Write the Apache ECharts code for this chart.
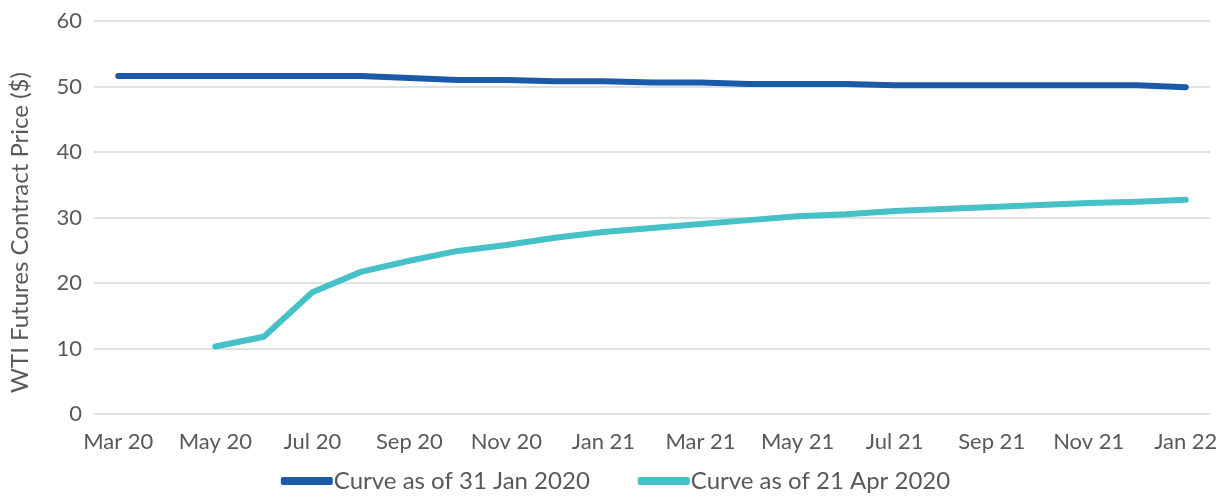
<!DOCTYPE html>
<html><head><meta charset="utf-8">
<script src="https://cdn.jsdelivr.net/npm/echarts@6/dist/echarts.min.js"></script>
<style>html,body{margin:0;padding:0;background:#fff}#c{width:1231px;height:499px}</style>
</head><body><div id="c"></div>
<script>
const categories = ['Mar 20','Apr 20','May 20','Jun 20','Jul 20','Aug 20','Sep 20','Oct 20','Nov 20','Dec 20','Jan 21','Feb 21','Mar 21','Apr 21','May 21','Jun 21','Jul 21','Aug 21','Sep 21','Oct 21','Nov 21','Dec 21','Jan 22'];
const curveJan = [51.6,51.6,51.6,51.6,51.6,51.6,51.3,51.0,51.0,50.8,50.8,50.6,50.6,50.4,50.4,50.4,50.2,50.2,50.2,50.2,50.2,50.2,49.9];
const curveApr = [null,null,10.3,11.8,18.6,21.7,23.4,24.9,25.8,26.9,27.8,28.4,29.0,29.6,30.2,30.5,31.0,31.3,31.6,31.9,32.2,32.4,32.7];
const yTicks = [0,10,20,30,40,50,60];
const seriesNames = ['Curve as of 31 Jan 2020','Curve as of 21 Apr 2020'];
const colors = ['#1a5aa8','#45c1c7'];
const font = 'Lato, "Open Sans", sans-serif';
const chart = echarts.init(document.getElementById('c'));
chart.setOption({
  animation:false,
  grid:{left:89,right:21,top:21,bottom:85,containLabel:false},
  xAxis:{type:'category',data:categories,boundaryGap:true,
    axisLine:{show:false},axisTick:{show:false},
    axisLabel:{interval:1,color:'#595959',fontSize:22,fontFamily:font,margin:17}},
  yAxis:{type:'value',min:yTicks[0],max:yTicks[yTicks.length-1],interval:10,
    name:'WTI Futures Contract Price ($)',nameLocation:'middle',nameGap:62,
    nameTextStyle:{color:'#595959',fontSize:24,fontFamily:font,padding:[0,30,0,0]},
    axisLine:{show:false},axisTick:{show:false},
    axisLabel:{color:'#595959',fontSize:22,fontFamily:font,margin:12},
    splitLine:{lineStyle:{color:'#dde2e2',width:2}}},
  legend:{bottom:1,left:'center',itemWidth:52,itemHeight:8,itemGap:48,
    textStyle:{color:'#595959',fontSize:24,fontFamily:font,padding:[0,0,0,-4]},
    data:seriesNames.map((n,i)=>({name:n,icon:'roundRect'}))},
  series:seriesNames.map((n,i)=>({name:n,type:'line',data:i===0?curveJan:curveApr,
    showSymbol:false,symbol:'none',color:colors[i],
    lineStyle:{width:6,color:colors[i],cap:'round',join:'round'}}))
});
</script></body></html>
